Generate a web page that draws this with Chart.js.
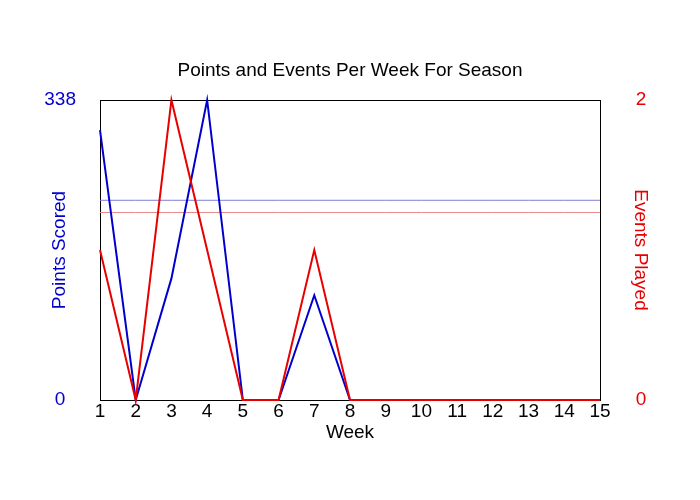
<!DOCTYPE html>
<html>
<head>
<meta charset="utf-8">
<script src="https://cdn.jsdelivr.net/npm/chart.js@4/dist/chart.umd.min.js"></script>
<style>
  body { margin: 0; background: #fff; }
  canvas { display: block; }
</style>
</head>
<body>
<canvas id="chart" width="700" height="500"></canvas>
<script>
// Data
const weeks = ['1', '2', '3', '4', '5', '6', '7', '8', '9', '10', '11', '12', '13', '14', '15'];
const pointsScored = [304, 0, 137, 338, 0, 0, 118, 0, 0, 0, 0, 0, 0, 0, 0];
const eventsPlayed = [1, 0, 2, 1, 0, 0, 1, 0, 0, 0, 0, 0, 0, 0, 0];
const pointsAverage = 225;
const eventsAverage = 1.25;
const pointsTicks = [0, 338];
const eventsTicks = [0, 2];

const BLUE = '#0000cd';
const RED = '#e80000';
const FONT = 'Arial, "Liberation Sans", sans-serif';

// black box round the plot area
const frame = {
    id: 'frame',
    beforeDatasetsDraw(chart) {
        const a = chart.chartArea;
        const ctx = chart.ctx;
        ctx.save();
        ctx.strokeStyle = '#000';
        ctx.lineWidth = 1;
        ctx.strokeRect(Math.round(a.left) + 0.5, Math.round(a.top) + 0.5,
            Math.round(a.right - a.left), Math.round(a.bottom - a.top));
        ctx.restore();
    }
};

const ctx = document.getElementById('chart').getContext('2d');

new Chart(ctx, {
    type: 'line',
    data: {
        labels: weeks,
        datasets: [{
            label: 'Events Played',
            data: eventsPlayed,
            yAxisID: 'yEvents',
            borderColor: RED,
            borderWidth: 2,
            pointRadius: 0,
            tension: 0,
            clip: false,
            order: 0
        }, {
            label: 'Points Scored',
            data: pointsScored,
            yAxisID: 'yPoints',
            borderColor: BLUE,
            borderWidth: 2,
            pointRadius: 0,
            tension: 0,
            clip: false,
            order: 1
        }, {
            label: 'Average Points',
            data: weeks.map(() => pointsAverage),
            yAxisID: 'yPoints',
            borderColor: '#7f7fd6',
            borderWidth: 1,
            pointRadius: 0,
            order: 2
        }, {
            label: 'Average Events',
            data: weeks.map(() => eventsAverage),
            yAxisID: 'yEvents',
            borderColor: '#e88a8a',
            borderWidth: 1,
            pointRadius: 0,
            order: 3
        }]
    },
    options: {
        responsive: false,
        animation: false,
        layout: { padding: 0 },
        plugins: {
            legend: { display: false },
            tooltip: { enabled: false },
            title: {
                display: true,
                text: 'Points and Events Per Week For Season',
                color: '#000',
                font: { family: FONT, size: 19, weight: 'normal' },
                padding: { top: 59.6, bottom: 17.6 }
            }
        },
        scales: {
            x: {
                offset: false,
                grid: { display: false, drawTicks: false },
                border: { display: false },
                ticks: {
                    color: '#000',
                    font: { family: FONT, size: 19 },
                    padding: 0,
                    autoSkip: false,
                    maxRotation: 0
                },
                title: {
                    display: true,
                    text: 'Week',
                    color: '#000',
                    font: { family: FONT, size: 19 },
                    padding: { top: 0, bottom: 55.6 }
                },
                afterFit(scale) { scale.height = 100; }
            },
            yPoints: {
                position: 'left',
                min: 0,
                max: 338,
                grid: { display: false, drawTicks: false },
                border: { display: false },
                afterBuildTicks(scale) { scale.ticks = pointsTicks.map(v => ({ value: v })); },
                ticks: {
                    color: BLUE,
                    font: { family: FONT, size: 19 },
                    crossAlign: 'center',
                    padding: 24
                },
                title: {
                    display: true,
                    text: 'Points Scored',
                    color: BLUE,
                    font: { family: FONT, size: 19 },
                    padding: { top: 48.6, bottom: 0 }
                },
                afterFit(scale) { scale.width = 100; }
            },
            yEvents: {
                position: 'right',
                min: 0,
                max: 2,
                grid: { display: false, drawTicks: false },
                border: { display: false },
                afterBuildTicks(scale) { scale.ticks = eventsTicks.map(v => ({ value: v })); },
                ticks: {
                    color: RED,
                    font: { family: FONT, size: 19 },
                    crossAlign: 'center',
                    padding: 35.7
                },
                title: {
                    display: true,
                    text: 'Events Played',
                    color: RED,
                    font: { family: FONT, size: 19 },
                    padding: { top: 48.6, bottom: 0 }
                },
                afterFit(scale) { scale.width = 100; }
            }
        }
    },
    plugins: [frame]
});
</script>
</body>
</html>
